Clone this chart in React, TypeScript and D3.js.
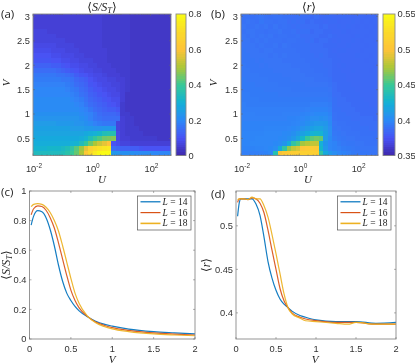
import React, { useEffect, useRef } from "react";
import * as d3 from "d3";

const parulaStops = ["#3e26a8", "#4852f4", "#2d87f7", "#12b1d6", "#37c897", "#abc739", "#fec338", "#fbd92c", "#f9fb14"];
const parulaPos = [0, 0.125, 0.25, 0.375, 0.5, 0.625, 0.75, 0.87, 1];

const vRows = [3.0, 2.9, 2.8, 2.7, 2.6, 2.5, 2.4, 2.3, 2.2, 2.1, 2.0, 1.9, 1.8, 1.7, 1.6, 1.5, 1.4, 1.3, 1.2, 1.1, 1.0, 0.9, 0.8, 0.7, 0.6, 0.5, 0.4, 0.3, 0.2];

// <S/S_T> in hundredths, top row V=3 to bottom row V=0.2, U columns left to right
const entropyRows = [
  [6,6,6,6,6,6,6,6,6,6,6,6,6,6,6,5,5,5,5,5,5,4,4,4,4,4,4,4,4,4],
  [6,6,6,6,6,6,6,6,6,6,6,6,6,6,6,5,5,5,5,5,5,4,4,4,4,4,4,4,4,4],
  [6,6,6,6,6,6,6,6,6,6,6,6,6,6,6,5,5,5,5,5,5,4,4,4,4,4,4,4,4,4],
  [7,7,7,6,6,6,6,6,6,6,6,6,6,6,6,5,5,5,5,5,5,4,4,4,4,4,4,4,4,4],
  [7,7,7,7,7,6,6,6,6,6,6,6,6,6,6,5,5,5,5,5,5,4,4,4,4,4,4,4,4,4],
  [7,7,7,7,7,7,7,6,6,6,6,6,6,6,6,5,5,5,5,5,5,4,4,4,4,4,4,4,4,4],
  [8,8,8,8,8,7,7,7,7,6,6,6,6,6,6,5,5,5,5,5,5,4,4,4,4,4,4,4,4,4],
  [9,9,9,9,8,8,8,7,7,7,6,6,6,6,6,6,5,5,5,5,5,4,4,4,4,4,4,4,4,4],
  [10,10,10,10,9,9,8,8,8,7,7,6,6,6,6,6,5,5,5,5,5,4,4,4,4,4,4,4,4,4],
  [11,11,11,11,10,10,9,9,8,8,7,7,7,6,6,6,5,5,5,5,5,4,4,4,4,4,4,4,4,4],
  [13,13,13,13,12,12,11,10,9,9,8,8,7,7,6,6,6,5,5,5,5,4,4,4,4,4,4,4,4,4],
  [15,15,15,15,15,14,13,12,11,10,9,8,8,7,7,6,6,6,5,5,5,4,4,4,4,4,4,4,4,4],
  [17,17,17,17,17,16,16,15,14,12,11,10,9,8,8,7,6,6,6,5,5,4,4,4,4,4,4,4,4,4],
  [18,18,18,18,18,18,17,17,16,14,13,12,10,9,8,8,7,7,6,6,5,4,4,4,4,4,4,4,4,4],
  [19,19,19,19,19,19,19,18,17,15,14,13,11,10,9,8,8,7,7,6,5,4,4,4,4,4,4,4,4,4],
  [20,20,20,20,20,20,20,19,18,17,15,14,12,11,10,9,8,8,7,6,5,4,4,4,4,4,4,4,4,4],
  [20,20,20,20,20,20,20,20,19,18,16,15,13,12,11,10,9,8,8,6,4,4,4,4,4,4,4,4,4,4],
  [21,21,21,21,21,21,21,21,20,19,18,16,14,13,12,11,10,9,9,6,4,4,4,4,4,4,4,4,4,4],
  [21,21,21,21,21,21,21,21,21,20,19,17,15,14,13,12,11,10,9,5,4,4,4,4,4,4,4,4,4,4],
  [21,21,21,21,21,21,21,21,21,21,20,19,17,15,14,13,12,12,11,5,4,4,4,4,4,4,4,4,4,4],
  [22,22,22,22,22,22,22,22,22,22,21,20,19,17,15,14,14,14,13,5,5,4,4,4,4,4,4,4,4,4],
  [23,23,23,23,23,23,23,23,23,23,22,21,19,17,16,15,15,15,15,6,5,5,4,4,4,4,4,4,4,4],
  [25,25,25,25,25,24,24,24,24,23,23,22,21,19,18,17,17,17,7,6,5,5,4,4,4,4,4,4,4,4],
  [26,26,26,26,26,26,26,26,25,25,25,24,24,23,23,24,24,24,7,6,5,5,5,4,4,4,4,4,4,4],
  [27,27,27,27,27,27,27,27,27,27,27,28,29,30,32,35,36,36,8,6,5,5,5,5,4,4,4,4,4,4],
  [28,28,28,28,28,28,28,28,28,28,29,31,35,39,42,45,46,47,8,6,6,5,5,5,5,5,5,4,4,4],
  [29,29,29,29,29,29,29,29,30,31,34,39,45,50,54,57,60,10,9,7,7,6,6,6,6,6,6,6,6,6],
  [31,31,31,32,32,32,33,35,38,43,49,57,66,70,72,74,75,15,14,13,13,12,12,11,10,10,10,10,10,10],
  [34,34,34,34,34,34,35,37,40,44,50,62,70,75,79,80,80,24,23,22,22,22,21,21,21,21,20,20,20,20],
];

// <r> in thousandths, same layout
const ratioRows = [
  [390,390,389,390,391,390,389,390,390,389,389,388,389,388,388,387,388,386,387,387,386,386,387,386,385,386,386,385,386,386],
  [390,391,390,389,392,390,390,389,390,390,388,389,388,389,387,388,387,387,386,387,387,385,386,386,387,386,385,386,385,386],
  [391,390,390,391,390,391,389,391,389,390,389,388,389,388,388,388,388,387,388,386,386,387,386,387,386,385,386,385,386,385],
  [390,391,391,390,390,389,390,390,391,389,389,390,388,389,389,387,388,388,387,387,386,386,387,385,386,386,386,386,385,386],
  [391,390,391,390,391,390,391,389,390,390,389,389,390,388,388,388,388,387,387,388,387,386,386,386,385,387,386,385,386,386],
  [391,391,390,391,390,391,390,390,390,389,390,390,389,389,388,389,387,388,388,387,386,387,386,386,387,386,385,386,386,385],
  [391,391,391,390,391,390,390,391,389,391,390,389,389,389,389,388,388,388,387,387,387,386,386,387,386,386,386,385,386,386],
  [392,391,391,391,390,391,391,390,390,390,390,390,389,389,389,388,388,388,388,387,386,387,387,386,386,386,385,386,386,386],
  [392,392,391,391,391,391,390,391,390,391,390,390,390,389,389,389,388,389,388,387,387,386,386,386,386,387,386,386,385,386],
  [392,392,392,391,392,391,391,391,391,390,390,390,390,390,389,389,389,388,388,388,387,387,386,386,386,386,386,385,386,386],
  [393,392,392,392,391,392,391,391,391,391,391,390,390,390,390,389,389,389,388,388,387,386,387,386,386,386,386,386,386,385],
  [393,393,392,392,392,392,392,391,391,391,391,391,391,390,390,390,389,389,389,388,387,387,386,386,387,386,386,386,385,386],
  [393,393,393,393,392,392,392,392,392,391,391,391,391,391,390,390,390,390,389,388,387,387,387,386,386,386,386,386,386,386],
  [394,393,393,393,393,393,392,392,392,392,392,391,391,391,391,391,390,390,390,389,387,387,387,386,386,386,386,386,386,386],
  [394,394,394,393,393,393,393,393,392,392,392,392,392,392,391,391,391,391,391,390,388,387,387,387,386,386,386,386,386,386],
  [394,394,394,394,394,393,393,393,393,393,393,392,392,392,392,392,392,392,392,391,388,387,387,387,387,386,386,386,386,386],
  [395,395,394,394,394,394,394,394,393,393,393,393,393,393,393,393,393,393,393,392,388,388,387,387,387,387,386,386,386,386],
  [395,395,395,395,394,394,394,394,394,394,394,394,394,394,394,394,394,394,394,393,389,388,388,387,387,387,387,386,386,386],
  [396,395,395,395,395,395,395,395,395,395,395,395,395,395,395,396,396,396,396,395,389,388,388,388,387,387,387,387,386,386],
  [396,396,396,396,396,396,396,396,396,396,396,396,396,396,397,398,398,398,398,396,389,389,388,388,388,387,387,387,387,387],
  [397,397,397,396,396,396,396,396,396,397,397,397,397,398,399,400,401,401,401,398,390,389,389,388,388,388,387,387,387,387],
  [397,397,397,397,397,397,397,397,397,397,398,398,399,400,402,404,404,405,404,400,390,389,389,389,388,388,388,388,388,387],
  [398,398,398,398,398,398,398,398,398,398,398,399,400,402,405,408,410,410,409,402,391,390,390,389,389,389,388,388,388,388],
  [398,398,398,398,398,399,399,399,399,399,400,401,403,407,411,414,417,418,412,404,392,391,390,390,389,389,389,389,388,388],
  [399,399,399,399,399,400,400,400,400,401,402,405,410,415,420,425,428,426,414,404,393,392,391,390,390,390,389,389,389,389],
  [399,399,399,400,400,400,400,400,401,402,405,410,418,430,450,458,462,460,412,402,395,393,392,391,391,390,390,390,390,389],
  [399,399,400,400,400,400,400,401,403,408,420,445,455,473,478,482,482,425,408,400,398,395,393,392,392,391,391,390,390,390],
  [398,398,398,399,399,400,401,404,420,445,470,482,488,503,508,510,508,430,410,400,398,397,395,394,393,392,391,391,391,391],
  [396,396,396,396,397,398,400,440,498,505,508,510,512,514,514,514,512,445,420,410,404,400,398,396,394,393,392,392,391,391],
];

const vGrid14 = [0.02,0.05,0.1,0.15,0.2,0.25,0.3,0.35,0.4,0.45,0.5,0.55,0.6,0.7,0.8,0.9,1,1.2,1.5,1.75,2];
const entropy14 = [0.77,0.83,0.867,0.86,0.82,0.74,0.63,0.5,0.39,0.31,0.26,0.22,0.19,0.15,0.12,0.1,0.087,0.067,0.05,0.042,0.035];
const entropy16 = [0.84,0.88,0.9,0.895,0.87,0.82,0.75,0.65,0.54,0.43,0.33,0.26,0.21,0.153,0.115,0.093,0.077,0.058,0.041,0.033,0.027];
const entropy18 = [0.895,0.91,0.915,0.91,0.89,0.855,0.8,0.73,0.63,0.52,0.41,0.31,0.24,0.155,0.11,0.085,0.068,0.05,0.034,0.027,0.022];

const vGridR = [0.02,0.04,0.06,0.1,0.15,0.2,0.25,0.3,0.35,0.4,0.45,0.5,0.55,0.6,0.65,0.7,0.8,0.87,1,1.25,1.4,1.5,1.75,2];
const ratio14 = [0.511,0.526,0.531,0.531,0.531,0.531,0.525,0.512,0.487,0.459,0.44,0.426,0.416,0.41,0.406,0.402,0.397,0.395,0.392,0.39,0.39,0.39,0.388,0.389];
const ratio16 = [0.527,0.531,0.531,0.531,0.53,0.532,0.531,0.526,0.515,0.495,0.472,0.45,0.428,0.414,0.406,0.4,0.395,0.393,0.391,0.389,0.389,0.389,0.387,0.387];
const ratio18 = [0.53,0.531,0.531,0.531,0.53,0.533,0.531,0.531,0.523,0.51,0.49,0.468,0.445,0.422,0.406,0.399,0.394,0.391,0.39,0.388,0.387,0.389,0.387,0.387];

const lineColors = ["#0072BD", "#D95319", "#EDB120"];
const legendLabels = ["14", "16", "18"];
const logTicks = [0.01, 1, 100];
const logMinor = [0.02,0.03,0.04,0.05,0.06,0.07,0.08,0.09,0.1,0.2,0.3,0.4,0.5,0.6,0.7,0.8,0.9,2,3,4,5,6,7,8,9,10,20,30,40,50,60,70,80,90,200,300,400,500];
const vTicks = [0.5, 1, 1.5, 2, 2.5, 3];

const SANS = "'Liberation Sans', Arial, sans-serif";
const SERIF = "'Liberation Serif', 'DejaVu Serif', serif";
const TXT = "#333";
const AXIS = "#8a8a8a";
const TICK_SIZE = 9.3;

type Sel = d3.Selection<any, any, any, any>;

function mathText(g: Sel, x: number, y: number, parts: [string, string?, boolean?][], size: number, anchor = "middle", rotate = 0) {
  const t = g.append("text").attr("font-family", SERIF).attr("font-size", size).attr("fill", "#222").attr("text-anchor", anchor)
    .attr("transform", `translate(${x},${y}) rotate(${rotate})`);
  parts.forEach(([s, dy, italic], i) => {
    const sp = t.append("tspan").text(s);
    if (italic !== false) sp.attr("font-style", "italic");
    if (dy === "sub") sp.attr("dy", 2).attr("font-size", size * 0.7);
    else if (i > 0 && parts[i - 1][1] === "sub") sp.attr("dy", -2);
  });
}

function colorScale(lo: number, hi: number) {
  return d3.scaleLinear<string>().domain(parulaPos.map((p) => lo + p * (hi - lo))).range(parulaStops).interpolate(d3.interpolateRgb).clamp(true);
}

function heatmap(svg: Sel, rows: number[][], lo: number, hi: number, x0: number, x1: number, cb0: number, cb1: number, cbTicks: number[], cbFmt: (n: number) => string) {
  const y0 = 14, y1 = 155.5;
  const xLog = d3.scaleLog().domain([0.01, 500]).range([x0, x1]);
  const yV = d3.scaleLinear().domain([0.15, 3.05]).range([y1, y0]);
  const col = d3.scaleBand<number>().domain(d3.range(rows[0].length)).range([x0, x1]);
  const color = colorScale(lo, hi);
  const cells = svg.append("g").attr("shape-rendering", "crispEdges");
  rows.forEach((row, r) => {
    const v = vRows[r];
    cells.selectAll(null).data(row).enter().append("rect")
      .attr("x", (_d: number, i: number) => col(i)!)
      .attr("y", yV(v + 0.05))
      .attr("width", col.bandwidth() + 0.4)
      .attr("height", yV(v - 0.05) - yV(v + 0.05) + 0.4)
      .attr("fill", (d: number) => color(d));
  });
  svg.append("rect").attr("x", x0).attr("y", y0).attr("width", x1 - x0).attr("height", y1 - y0).attr("fill", "none").attr("stroke", AXIS).attr("stroke-width", 0.9);
  const ax = svg.append("g").attr("stroke", "#666").attr("stroke-width", 0.5);
  logMinor.forEach((t) => {
    ax.append("line").attr("x1", xLog(t)).attr("x2", xLog(t)).attr("y1", y1).attr("y2", y1 - 1);
    ax.append("line").attr("x1", xLog(t)).attr("x2", xLog(t)).attr("y1", y0).attr("y2", y0 + 1);
  });
  logTicks.forEach((t) => {
    ax.append("line").attr("x1", xLog(t)).attr("x2", xLog(t)).attr("y1", y1).attr("y2", y1 - 2);
    ax.append("line").attr("x1", xLog(t)).attr("x2", xLog(t)).attr("y1", y0).attr("y2", y0 + 2);
    const tx = svg.append("text").attr("x", xLog(t) + 1).attr("y", y1 + 16.5).attr("text-anchor", "middle").attr("font-family", SANS).attr("font-size", TICK_SIZE).attr("fill", TXT);
    tx.append("tspan").text("10");
    tx.append("tspan").text(String(Math.round(Math.log10(t)))).attr("font-size", 6.5).attr("dy", -4);
  });
  vTicks.forEach((t) => {
    ax.append("line").attr("x1", x0).attr("x2", x0 + 2).attr("y1", yV(t)).attr("y2", yV(t));
    ax.append("line").attr("x1", x1).attr("x2", x1 - 2).attr("y1", yV(t)).attr("y2", yV(t));
    svg.append("text").attr("x", x0 - 3).attr("y", yV(t) + 3.4).attr("text-anchor", "end").attr("font-family", SANS).attr("font-size", TICK_SIZE).attr("fill", TXT).text(String(t));
  });
  // colorbar
  const yC = d3.scaleLinear().domain([lo, hi]).range([y1, y0]);
  const steps = d3.range(64);
  const bar = svg.append("g").attr("shape-rendering", "crispEdges");
  bar.selectAll(null).data(steps).enter().append("rect")
    .attr("x", cb0).attr("width", cb1 - cb0)
    .attr("y", (i: number) => yC(lo + ((i + 1) / 64) * (hi - lo)))
    .attr("height", (y1 - y0) / 64 + 0.5)
    .attr("fill", (i: number) => color(lo + ((i + 0.5) / 64) * (hi - lo)));
  svg.append("rect").attr("x", cb0).attr("y", y0).attr("width", cb1 - cb0).attr("height", y1 - y0).attr("fill", "none").attr("stroke", AXIS).attr("stroke-width", 0.9);
  cbTicks.forEach((t) => {
    svg.append("text").attr("x", cb1 + 2.5).attr("y", yC(t) + 3.4).attr("font-family", SANS).attr("font-size", TICK_SIZE).attr("fill", TXT).text(cbFmt(t));
  });
}

function linePanel(svg: Sel, x0: number, x1: number, domainY: [number, number], yTicks: number[], grid: number[], series: number[][], lg0: number, lg1: number) {
  const y0 = 191, y1 = 339;
  const x = d3.scaleLinear().domain([0, 2]).range([x0, x1]);
  const y = d3.scaleLinear().domain(domainY).range([y1, y0]);
  const line = d3.line<number>().x((_d, i) => x(grid[i])).y((d) => y(d)).curve(d3.curveMonotoneX);
  series.forEach((s, i) => {
    svg.append("path").attr("d", line(s)!).attr("fill", "none").attr("stroke", lineColors[i]).attr("stroke-width", 1.2).attr("opacity", 0.92);
  });
  svg.append("rect").attr("x", x0).attr("y", y0).attr("width", x1 - x0).attr("height", y1 - y0).attr("fill", "none").attr("stroke", AXIS).attr("stroke-width", 0.9);
  const ax = svg.append("g").attr("stroke", "#666").attr("stroke-width", 0.5);
  [0, 0.5, 1, 1.5, 2].forEach((t) => {
    ax.append("line").attr("x1", x(t)).attr("x2", x(t)).attr("y1", y1).attr("y2", y1 - 2);
    ax.append("line").attr("x1", x(t)).attr("x2", x(t)).attr("y1", y0).attr("y2", y0 + 2);
    svg.append("text").attr("x", x(t)).attr("y", y1 + 12.5).attr("text-anchor", "middle").attr("font-family", SANS).attr("font-size", TICK_SIZE).attr("fill", TXT).text(String(t));
  });
  yTicks.forEach((t) => {
    ax.append("line").attr("x1", x0).attr("x2", x0 + 2).attr("y1", y(t)).attr("y2", y(t));
    ax.append("line").attr("x1", x1).attr("x2", x1 - 2).attr("y1", y(t)).attr("y2", y(t));
    svg.append("text").attr("x", x0 - 3).attr("y", y(t) + 3.4).attr("text-anchor", "end").attr("font-family", SANS).attr("font-size", TICK_SIZE).attr("fill", TXT).text(String(t));
  });
  // legend
  const ly0 = 196, ly1 = 230;
  svg.append("rect").attr("x", lg0).attr("y", ly0).attr("width", lg1 - lg0).attr("height", ly1 - ly0).attr("fill", "#fff").attr("stroke", "#555").attr("stroke-width", 0.7);
  legendLabels.forEach((l, i) => {
    const ly = ly0 + 5.8 + i * 10.8;
    svg.append("line").attr("x1", lg0 + 3).attr("x2", lg0 + 23).attr("y1", ly).attr("y2", ly).attr("stroke", lineColors[i]).attr("stroke-width", i === 2 ? 1.6 : 1.2);
    const t = svg.append("text").attr("x", lg0 + 25).attr("y", ly + 3).attr("font-family", SERIF).attr("font-size", 9.5).attr("fill", "#222");
    t.append("tspan").text("L").attr("font-style", "italic");
    t.append("tspan").text(" = " + l);
  });
}

export default function App() {
  const ref = useRef<SVGSVGElement>(null);
  useEffect(() => {
    const svg = d3.select(ref.current!);
    svg.selectAll("*").remove();
    const defs = svg.append("defs");
    defs.append("filter").attr("id", "soft").attr("x", "0").attr("y", "0").attr("width", "100%").attr("height", "100%")
      .append("feGaussianBlur").attr("stdDeviation", 0.4);
    const root: Sel = svg.append("g").attr("filter", "url(#soft)");
    root.append("rect").attr("width", 415).attr("height", 364).attr("fill", "#fff");

    heatmap(root, entropyRows.map((r) => r.map((d) => d / 100)), 0, 0.8, 33, 171, 176, 186, [0, 0.2, 0.4, 0.6, 0.8], (n) => String(n));
    heatmap(root, ratioRows.map((r) => r.map((d) => d / 1000)), 0.35, 0.55, 241, 378, 383, 395, [0.35, 0.4, 0.45, 0.5, 0.55], (n) => String(n));
    linePanel(root, 29.5, 195, [0, 1], [0, 0.2, 0.4, 0.6, 0.8, 1], vGrid14, [entropy14, entropy16, entropy18], 137.5, 191);
    linePanel(root, 236, 396, [0.37, 0.54], [0.4, 0.45, 0.5], vGridR, [ratio14, ratio16, ratio18], 337.5, 391);

    // titles and axis labels
    mathText(root, 102, 10.5, [["\u27E8", undefined, false], ["S/S"], ["T", "sub"], ["\u27E9", undefined, false]], 12);
    mathText(root, 309, 10.5, [["\u27E8", undefined, false], ["r"], ["\u27E9", undefined, false]], 12);
    mathText(root, 102, 183, [["U"]], 11);
    mathText(root, 308, 183, [["U"]], 11);
    mathText(root, 112, 363, [["V"]], 11);
    mathText(root, 315, 363, [["V"]], 11);
    mathText(root, 10, 83, [["V"]], 11, "middle", -90);
    mathText(root, 217, 83, [["V"]], 11, "middle", -90);
    mathText(root, 10, 265, [["\u27E8", undefined, false], ["S/S"], ["T", "sub"], ["\u27E9", undefined, false]], 12, "middle", -90);
    mathText(root, 210, 265, [["\u27E8", undefined, false], ["r"], ["\u27E9", undefined, false]], 12, "middle", -90);

    const panel = [["(a)", 1, 17.5], ["(b)", 211, 17.5], ["(c)", 1, 195.5], ["(d)", 211, 198]] as [string, number, number][];
    panel.forEach(([s, x, y]) => {
      root.append("text").attr("x", x).attr("y", y).attr("font-family", "'Open Sans', 'Noto Sans', sans-serif").attr("font-size", 11.5).attr("fill", "#222").text(s);
    });
  }, []);
  return <svg ref={ref} width={415} height={364} style={{ position: "fixed", left: 0, top: 0, display: "block", background: "#fff" }} />;
}
